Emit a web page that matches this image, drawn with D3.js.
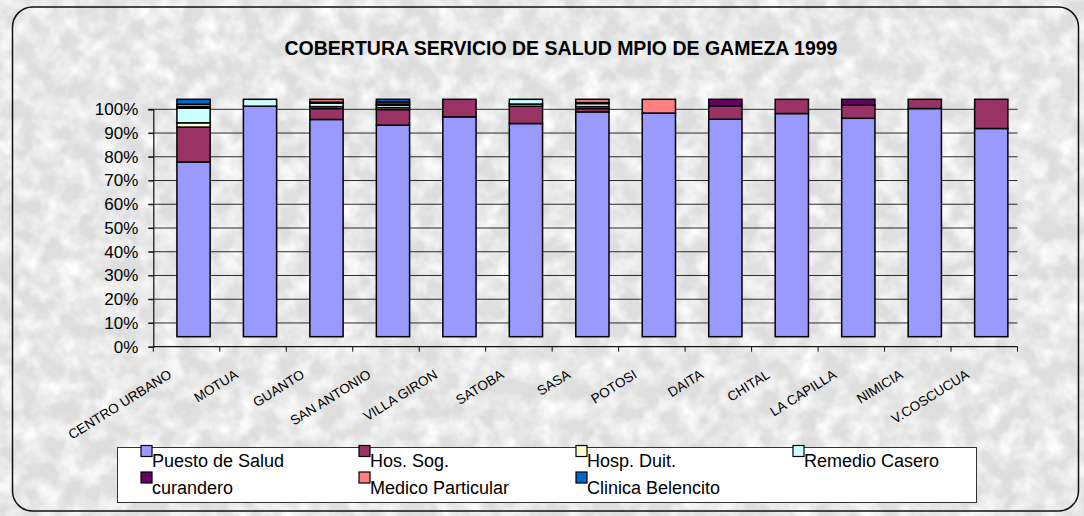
<!DOCTYPE html>
<html>
<head>
<meta charset="utf-8">
<script src="https://cdn.jsdelivr.net/npm/d3@7"></script>
<style>
  html, body { margin: 0; padding: 0; background: #e6e6e6; }
  svg { display: block; font-family: Arial, "Liberation Sans", sans-serif; }
</style>
</head>
<body>
<svg id="chart" width="1084" height="516"></svg>
<script>
// Municipal health-service coverage, share of households per service (percent)
const categories = ["CENTRO URBANO", "MOTUA", "GUANTO", "SAN ANTONIO", "VILLA GIRON", "SATOBA",
  "SASA", "POTOSI", "DAITA", "CHITAL", "LA CAPILLA", "NIMICIA", "V.COSCUCUA"];

const seriesNames = ["Puesto de Salud", "Hos. Sog.", "Hosp. Duit.", "Remedio Casero",
  "curandero", "Medico Particular", "Clinica Belencito"];
const seriesColors = ["#9999FF", "#993366", "#FFFFCC", "#CCFFFF", "#660066", "#FF8080", "#0066CC"];

const puestoSalud      = [73.6, 97.1, 91.5, 89.1, 92.6, 89.8, 94.7, 94.2, 91.6, 94.0, 92.0, 96.1, 87.7];
const hosSog           = [14.7, 0,    4.6,  6.6,  7.4,  7.3,  1.4,  0,    5.6,  6.0,  5.5,  3.9,  12.3];
const hospDuit         = [1.8,  0,    0.8,  0.8,  0,    0.9,  0.8,  0,    0,    0,    0,    0,    0];
const remedioCasero    = [6.2,  2.9,  1.5,  1.0,  0,    2.0,  1.3,  0,    0,    0,    0,    0,    0];
const curandero        = [0.6,  0,    0.4,  0.5,  0,    0,    0.4,  0,    2.8,  0,    2.5,  0,    0];
const medicoParticular = [1.0,  0,    1.2,  0.9,  0,    0,    1.4,  5.8,  0,    0,    0,    0,    0];
const clinicaBelencito = [2.1,  0,    0,    1.1,  0,    0,    0,    0,    0,    0,    0,    0,    0];

const yTicks = [0, 0.1, 0.2, 0.3, 0.4, 0.5, 0.6, 0.7, 0.8, 0.9, 1.0];
const titleText = "COBERTURA SERVICIO DE SALUD MPIO DE GAMEZA 1999";

const seriesValues = [puestoSalud, hosSog, hospDuit, remedioCasero, curandero, medicoParticular, clinicaBelencito];
const table = categories.map((c, i) => {
  const row = { cat: c };
  seriesNames.forEach((s, k) => { row[s] = seriesValues[k][i]; });
  return row;
});

const svg = d3.select("#chart");
const W = 1084, H = 516;

// textured grey backdrop
const defs = svg.append("defs");
const f = defs.append("filter").attr("id", "marble")
  .attr("x", 0).attr("y", 0).attr("width", "100%").attr("height", "100%");
f.append("feTurbulence").attr("type", "fractalNoise")
  .attr("baseFrequency", "0.05").attr("numOctaves", 3).attr("seed", 7);
f.append("feColorMatrix").attr("type", "matrix")
  .attr("values", "0 0 0 0 1  0 0 0 0 1  0 0 0 0 1  2.0 0 0 0 -0.7");

svg.append("rect").attr("width", W).attr("height", H).attr("fill", "#dedede");
svg.append("rect").attr("width", W).attr("height", H).attr("filter", "url(#marble)");

// chart frame
svg.append("rect")
  .attr("x", 12.5).attr("y", 7).attr("width", 1066).attr("height", 504)
  .attr("rx", 20).attr("ry", 20)
  .attr("fill", "none").attr("stroke", "#111").attr("stroke-width", 1.5);

// title
svg.append("text")
  .attr("x", 561).attr("y", 55)
  .attr("text-anchor", "middle")
  .attr("font-size", 19.5).attr("font-weight", "bold")
  .attr("fill", "#000")
  .text(titleText);

// scales
const plot = { left: 153.3, right: 1017.5, top: 109.3, bottom: 346.7 };
const x = d3.scaleBand().domain(categories).range([plot.left, plot.right]).paddingInner(0.5).paddingOuter(0.25);
const xBand = d3.scaleBand().domain(categories).range([plot.left, plot.right]);
const y = d3.scaleLinear().domain([0, 1]).range([plot.bottom, plot.top]);

// gridlines
svg.append("g")
  .selectAll("line").data(yTicks.filter(t => t > 0)).join("line")
  .attr("x1", plot.left - 5).attr("x2", plot.right)
  .attr("y1", d => y(d)).attr("y2", d => y(d))
  .attr("stroke", "#2a2a2a").attr("stroke-width", 1);

// y axis
const yAxis = svg.append("g")
  .attr("transform", `translate(${plot.left},0)`)
  .call(d3.axisLeft(y).tickValues(yTicks).tickFormat(d3.format(".0%")).tickSize(5).tickPadding(10));
yAxis.select(".domain").attr("stroke", "#111").attr("stroke-width", 1.2);
yAxis.selectAll(".tick line").attr("stroke", "#111");
yAxis.selectAll("text").attr("font-size", 17).attr("fill", "#000")
  .attr("font-family", "Arial, 'Liberation Sans', sans-serif");

// x axis with ticks at category boundaries
const xAxis = svg.append("g").attr("transform", `translate(0,${plot.bottom})`);
xAxis.append("line")
  .attr("x1", plot.left).attr("x2", plot.right)
  .attr("stroke", "#111").attr("stroke-width", 1.2);
const boundaries = categories.map(c => xBand(c)).concat([xBand(categories[categories.length - 1]) + xBand.bandwidth()]);
xAxis.selectAll("line.tk").data(boundaries).join("line").attr("class", "tk")
  .attr("x1", d => d).attr("x2", d => d).attr("y1", 0).attr("y2", 5)
  .attr("stroke", "#111");

// category labels
svg.append("g").selectAll("text").data(categories).join("text")
  .attr("transform", d => `translate(${xBand(d) + xBand.bandwidth() / 2 - 14},${377}) rotate(-32)`)
  .attr("text-anchor", "end")
  .attr("font-size", 13.5)
  .attr("fill", "#000")
  .text(d => d);

// stacked 100% columns, drawn with a small depth shift
const stack = d3.stack().keys(seriesNames).offset(d3.stackOffsetExpand);
const layers = stack(table);
const bars = svg.append("g").attr("transform", "translate(7,-10)");
bars.selectAll("g").data(layers).join("g")
  .attr("fill", (d, i) => seriesColors[i])
  .selectAll("rect").data(d => d.filter(p => p[1] - p[0] > 0)).join("rect")
  .attr("x", d => x(d.data.cat))
  .attr("width", x.bandwidth())
  .attr("y", d => y(d[1]))
  .attr("height", d => y(d[0]) - y(d[1]))
  .attr("stroke", "#000").attr("stroke-width", 1.5);

// legend
const legend = svg.append("g");
legend.append("rect")
  .attr("x", 117.5).attr("y", 447.5).attr("width", 859).attr("height", 55)
  .attr("fill", "#fff").attr("stroke", "#333").attr("stroke-width", 1);
const colX = [141, 359, 576, 793];
const rowY = [445.5, 472];
seriesNames.forEach((name, i) => {
  const cx = colX[i % 4], ry = rowY[Math.floor(i / 4)];
  legend.append("rect")
    .attr("x", cx).attr("y", ry).attr("width", 11).attr("height", 11)
    .attr("fill", seriesColors[i]).attr("stroke", "#000").attr("stroke-width", 1.2);
  legend.append("text")
    .attr("x", cx + 11).attr("y", ry + 21.5)
    .attr("font-size", 18).attr("fill", "#000")
    .text(name);
});
</script>
</body>
</html>
